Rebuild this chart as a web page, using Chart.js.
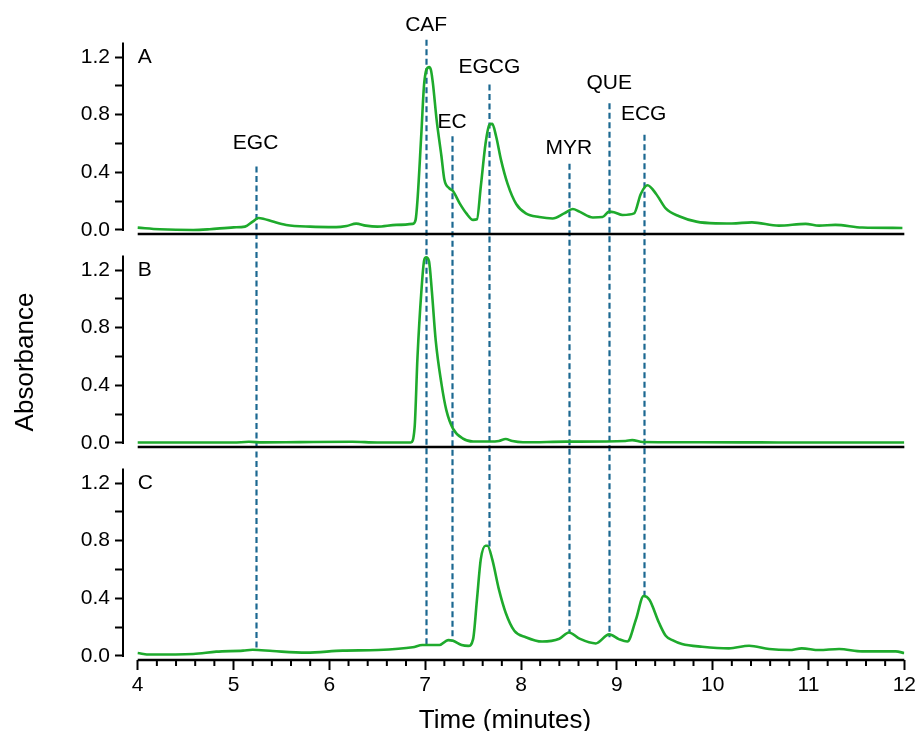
<!DOCTYPE html>
<html>
<head>
<meta charset="utf-8">
<script src="https://cdn.jsdelivr.net/npm/chart.js@4.4.1/dist/chart.umd.min.js"></script>
<style>
  body { margin: 0; background: #fff; }
  canvas { display: block; }
</style>
</head>
<body>
<canvas id="chromChart" width="919" height="731"></canvas>
<script>
// trace A (retention time in minutes / absorbance)
const timeA = [4.00, 4.23, 4.58, 4.75, 5.00, 5.12, 5.20, 5.26, 5.31, 5.41, 5.55, 5.80, 6.07, 6.18, 6.28, 6.38, 6.50, 6.70, 6.87, 6.90, 6.92, 6.96, 6.99, 7.04, 7.06, 7.08, 7.12, 7.17, 7.20, 7.25, 7.29, 7.36, 7.43, 7.50, 7.54, 7.58, 7.63, 7.67, 7.70, 7.74, 7.79, 7.86, 7.95, 8.05, 8.19, 8.33, 8.45, 8.54, 8.61, 8.75, 8.85, 8.92, 8.97, 9.06, 9.18, 9.25, 9.32, 9.41, 9.51, 9.65, 9.83, 10.03, 10.20, 10.41, 10.69, 10.97, 11.11, 11.28, 11.56, 11.98];
const absA = [0.016, 0.005, 0.000, 0.005, 0.018, 0.023, 0.058, 0.083, 0.078, 0.058, 0.035, 0.023, 0.020, 0.028, 0.044, 0.030, 0.023, 0.035, 0.042, 0.070, 0.210, 0.670, 1.020, 1.130, 1.110, 1.020, 0.760, 0.510, 0.350, 0.290, 0.270, 0.185, 0.115, 0.070, 0.074, 0.300, 0.600, 0.730, 0.736, 0.650, 0.490, 0.320, 0.180, 0.115, 0.090, 0.080, 0.115, 0.145, 0.127, 0.087, 0.090, 0.127, 0.123, 0.104, 0.115, 0.250, 0.310, 0.250, 0.150, 0.095, 0.058, 0.046, 0.045, 0.053, 0.030, 0.042, 0.030, 0.035, 0.017, 0.014];

// trace B
const timeB = [4.00, 5.00, 5.16, 5.30, 5.69, 6.24, 6.50, 6.85, 6.89, 6.92, 6.96, 6.99, 7.01, 7.04, 7.07, 7.11, 7.17, 7.22, 7.29, 7.39, 7.50, 7.67, 7.77, 7.84, 7.91, 8.02, 8.47, 9.09, 9.16, 9.27, 9.86, 10.50, 11.00, 12.00];
const absB = [0.003, 0.003, 0.008, 0.004, 0.006, 0.008, 0.003, 0.003, 0.110, 0.600, 1.050, 1.270, 1.288, 1.260, 1.050, 0.710, 0.410, 0.230, 0.100, 0.032, 0.010, 0.010, 0.014, 0.027, 0.013, 0.005, 0.009, 0.014, 0.020, 0.007, 0.005, 0.004, 0.003, 0.003];

// trace C
const timeC = [4.00, 4.13, 4.58, 4.82, 5.10, 5.20, 5.41, 5.76, 6.14, 6.51, 6.87, 6.97, 7.15, 7.24, 7.29, 7.38, 7.45, 7.50, 7.54, 7.58, 7.63, 7.65, 7.70, 7.77, 7.84, 7.93, 8.05, 8.22, 8.40, 8.50, 8.61, 8.78, 8.92, 9.02, 9.11, 9.20, 9.28, 9.34, 9.44, 9.51, 9.58, 9.68, 9.89, 10.17, 10.38, 10.59, 10.80, 10.93, 11.11, 11.32, 11.56, 11.91, 12.00];
const absC = [0.020, 0.010, 0.014, 0.030, 0.037, 0.043, 0.034, 0.023, 0.037, 0.041, 0.060, 0.076, 0.076, 0.110, 0.105, 0.076, 0.070, 0.117, 0.390, 0.670, 0.765, 0.765, 0.670, 0.460, 0.300, 0.175, 0.130, 0.100, 0.120, 0.163, 0.120, 0.087, 0.150, 0.117, 0.100, 0.255, 0.416, 0.390, 0.230, 0.140, 0.110, 0.083, 0.064, 0.053, 0.071, 0.048, 0.041, 0.053, 0.041, 0.048, 0.032, 0.032, 0.020];

// compound markers: retention time, top of dashed line (panel A units),
// label height (panel A units), end of dashed line (panel C units)
const markerNames = ['EGC', 'CAF', 'EC', 'EGCG', 'MYR', 'QUE', 'ECG'];
const markerTimes = [5.23, 7.01, 7.28, 7.67, 8.50, 8.92, 9.28];
const markerTops = [0.44, 1.32, 0.65, 1.01, 0.46, 0.88, 0.66];
const markerLabelY = [0.60, 1.42, 0.75, 1.13, 0.57, 1.02, 0.80];
const markerEnds = [0.05, 0.06, 0.10, 0.76, 0.16, 0.13, 0.41];

const panelNames = ['A', 'B', 'C'];
const yTicks = [0, 0.2, 0.4, 0.6, 0.8, 1.0, 1.2];
const xTicks = [4, 4.2, 4.4, 4.6, 4.8, 5, 5.2, 5.4, 5.6, 5.8, 6, 6.2, 6.4, 6.6, 6.8, 7, 7.2, 7.4, 7.6, 7.8, 8, 8.2, 8.4, 8.6, 8.8, 9, 9.2, 9.4, 9.6, 9.8, 10, 10.2, 10.4, 10.6, 10.8, 11, 11.2, 11.4, 11.6, 11.8, 12];

const FONT = "'Liberation Sans', Arial, sans-serif";
const GREEN = '#1eaa2c';
const DASH = '#1b6891';

function toPoints(xs, ys) {
  return xs.map((x, i) => ({x: x, y: ys[i]}));
}

function isMajor(v) {
  return Math.abs(v - Math.round(v)) < 1e-6;
}

function yAxis(weight) {
  return {
    type: 'linear',
    position: 'left',
    stack: 'panels',
    stackWeight: 1,
    weight: weight,
    min: -0.028,
    max: 1.45,
    afterBuildTicks: (scale) => { scale.ticks = yTicks.map(v => ({value: v})); },
    afterFit: (scale) => { scale.width = 124; },
    border: {display: false},
    grid: {drawOnChartArea: false, drawTicks: true, tickLength: 9, tickWidth: 2, tickColor: '#000'},
    ticks: {
      autoSkip: false,
      padding: 5,
      color: '#000',
      font: {family: FONT, size: 21},
      callback: (v) => (Math.round(v * 10) % 4 === 0 ? v.toFixed(1) : '')
    }
  };
}

const decorPlugin = {
  id: 'decor',
  beforeDatasetsDraw(chart) {
    const c = chart.ctx;
    const x = chart.scales.x;
    const yA = chart.scales.yA;
    const yC = chart.scales.yC;
    c.save();
    c.strokeStyle = DASH;
    c.lineWidth = 2.2;
    c.setLineDash([6, 3.5]);
    markerTimes.forEach((t, i) => {
      const px = Math.round(x.getPixelForValue(t)) + 0.5;
      c.beginPath();
      c.moveTo(px, yA.getPixelForValue(markerTops[i]));
      c.lineTo(px, yC.getPixelForValue(markerEnds[i]));
      c.stroke();
    });
    c.restore();
  },
  afterDraw(chart) {
    const c = chart.ctx;
    const x = chart.scales.x;
    const area = chart.chartArea;
    const ys = [chart.scales.yA, chart.scales.yB, chart.scales.yC];
    const x0 = x.getPixelForValue(4);
    const x1 = x.getPixelForValue(12);
    c.save();
    c.strokeStyle = '#000';
    c.fillStyle = '#000';

    ys.forEach((y, i) => {
      // vertical axis line from 0 to 1.3
      c.lineWidth = 2;
      c.beginPath();
      c.moveTo(area.left - 1, y.getPixelForValue(0) + 1);
      c.lineTo(area.left - 1, y.getPixelForValue(1.3));
      c.stroke();
      // panel base line
      c.lineWidth = 2.5;
      c.beginPath();
      c.moveTo(x0, y.bottom);
      c.lineTo(x1, y.bottom);
      c.stroke();
      // panel letter
      c.font = '21px ' + FONT;
      c.textAlign = 'left';
      c.textBaseline = 'middle';
      c.fillText(panelNames[i], x0, y.getPixelForValue(1.2));
    });

    // minor ticks on the time axis
    c.lineWidth = 2;
    xTicks.forEach(v => {
      if (isMajor(v)) return;
      const px = x.getPixelForValue(v);
      c.beginPath();
      c.moveTo(px, area.bottom);
      c.lineTo(px, area.bottom + 6);
      c.stroke();
    });

    // compound labels
    c.font = '21px ' + FONT;
    c.textAlign = 'center';
    c.textBaseline = 'middle';
    markerNames.forEach((name, i) => {
      c.fillText(name, x.getPixelForValue(markerTimes[i]), ys[0].getPixelForValue(markerLabelY[i]));
    });

    // axis titles
    c.font = '26px ' + FONT;
    c.textAlign = 'center';
    c.textBaseline = 'alphabetic';
    c.fillText('Time (minutes)', 505, 728);
    c.save();
    c.translate(33, 362);
    c.rotate(-Math.PI / 2);
    c.font = '26px ' + FONT;
    c.fillText('Absorbance', 0, 0);
    c.restore();
    c.restore();
  }
};

const lineStyle = {
  borderColor: GREEN,
  borderWidth: 2.6,
  pointRadius: 0,
  fill: false,
  cubicInterpolationMode: 'monotone'
};

new Chart(document.getElementById('chromChart'), {
  type: 'line',
  data: {
    datasets: [
      Object.assign({label: 'A', data: toPoints(timeA, absA), yAxisID: 'yA'}, lineStyle),
      Object.assign({label: 'B', data: toPoints(timeB, absB), yAxisID: 'yB'}, lineStyle),
      Object.assign({label: 'C', data: toPoints(timeC, absC), yAxisID: 'yC'}, lineStyle)
    ]
  },
  options: {
    responsive: false,
    animation: false,
    layout: {padding: {top: 21, right: 13, bottom: 0, left: 0}},
    plugins: {legend: {display: false}, tooltip: {enabled: false}},
    scales: {
      x: {
        type: 'linear',
        min: 3.857,
        max: 12,
        afterBuildTicks: (scale) => { scale.ticks = xTicks.map(v => ({value: v})); },
        afterFit: (scale) => { scale.height = 71; },
        border: {display: false},
        grid: {
          drawOnChartArea: false,
          drawTicks: true,
          tickLength: 10,
          tickWidth: 2,
          tickColor: (ctx) => (ctx.tick && isMajor(ctx.tick.value) ? '#000' : 'rgba(0,0,0,0)')
        },
        ticks: {
          autoSkip: false,
          maxRotation: 0,
          padding: 3,
          color: '#000',
          font: {family: FONT, size: 21},
          callback: (v) => (isMajor(v) ? String(Math.round(v)) : '')
        }
      },
      yA: yAxis(3),
      yB: yAxis(2),
      yC: yAxis(1)
    }
  },
  plugins: [decorPlugin]
});
</script>
</body>
</html>
